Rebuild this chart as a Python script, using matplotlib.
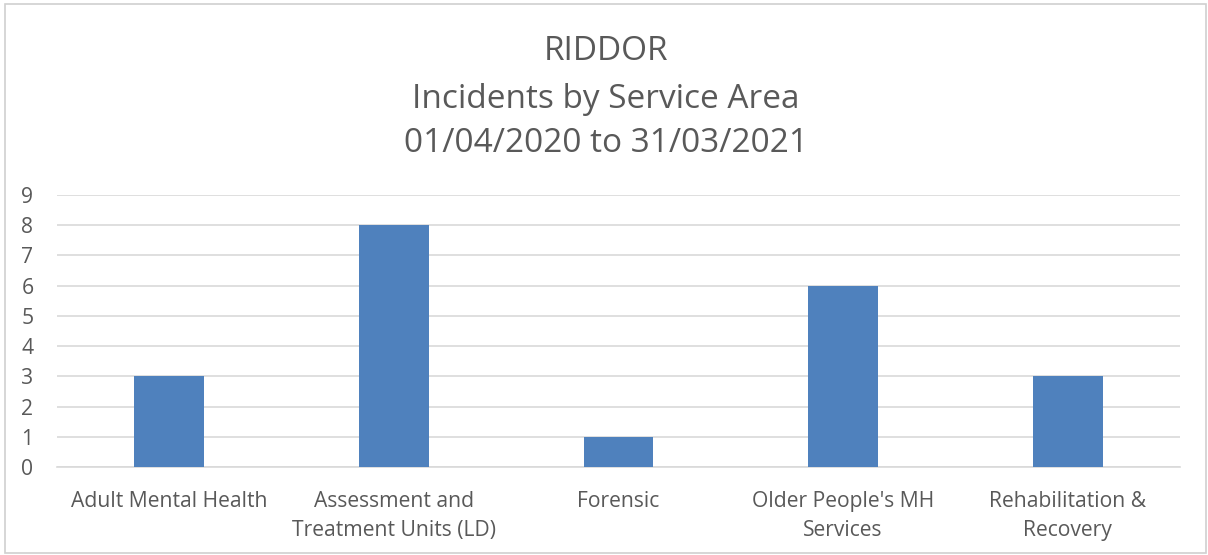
import matplotlib
matplotlib.use("Agg")
import matplotlib.pyplot as plt
from matplotlib.patches import Rectangle

categories = ["Adult Mental Health", "Assessment and\nTreatment Units (LD)", "Forensic",
              "Older People's MH\nServices", "Rehabilitation &\nRecovery"]
incidents = [3, 8, 1, 6, 3]
y_ticks = list(range(0, 10))
title_lines = ["RIDDOR", "Incidents by Service Area", "01/04/2020 to 31/03/2021"]

plt.rcParams["font.family"] = ["Open Sans", "DejaVu Sans"]
text_color = "#595959"
grid_color = "#d9d9d9"

fig = plt.figure(figsize=(12.08, 5.55), dpi=100)
fig.patches.append(Rectangle((5 / 1208, 2 / 555), 1201 / 1208, 549 / 555,
                             transform=fig.transFigure, fill=False,
                             edgecolor="#d0d0d0", linewidth=1.2))

ax = fig.add_axes([57 / 1208, 1 - 467 / 555, 1123 / 1208, 272 / 555])
x = range(len(categories))
ax.bar(x, incidents, width=0.31, color="#4f81bd", zorder=3)

ax.set_xlim(-0.5, len(categories) - 0.5)
ax.set_ylim(0, 9)
ax.set_yticks(y_ticks)
ax.set_xticks(list(x))
ax.set_xticklabels(categories, fontsize=15.2, color=text_color, linespacing=1.5)
ax.tick_params(axis="y", labelsize=15.2, labelcolor=text_color, length=0, pad=17)
ax.tick_params(axis="x", length=0, pad=17)
ax.grid(axis="y", color=grid_color, linewidth=1.2, zorder=0)
for side in ["top", "right", "left"]:
    ax.spines[side].set_visible(False)
ax.spines["bottom"].set_color(grid_color)
ax.spines["bottom"].set_linewidth(1.2)

for line, yy in zip(title_lines, [51, 99, 143]):
    fig.text(606 / 1208, 1 - yy / 555, line, ha="center", va="center",
             fontsize=24, color=text_color)

fig.savefig("out.png", dpi=100)
